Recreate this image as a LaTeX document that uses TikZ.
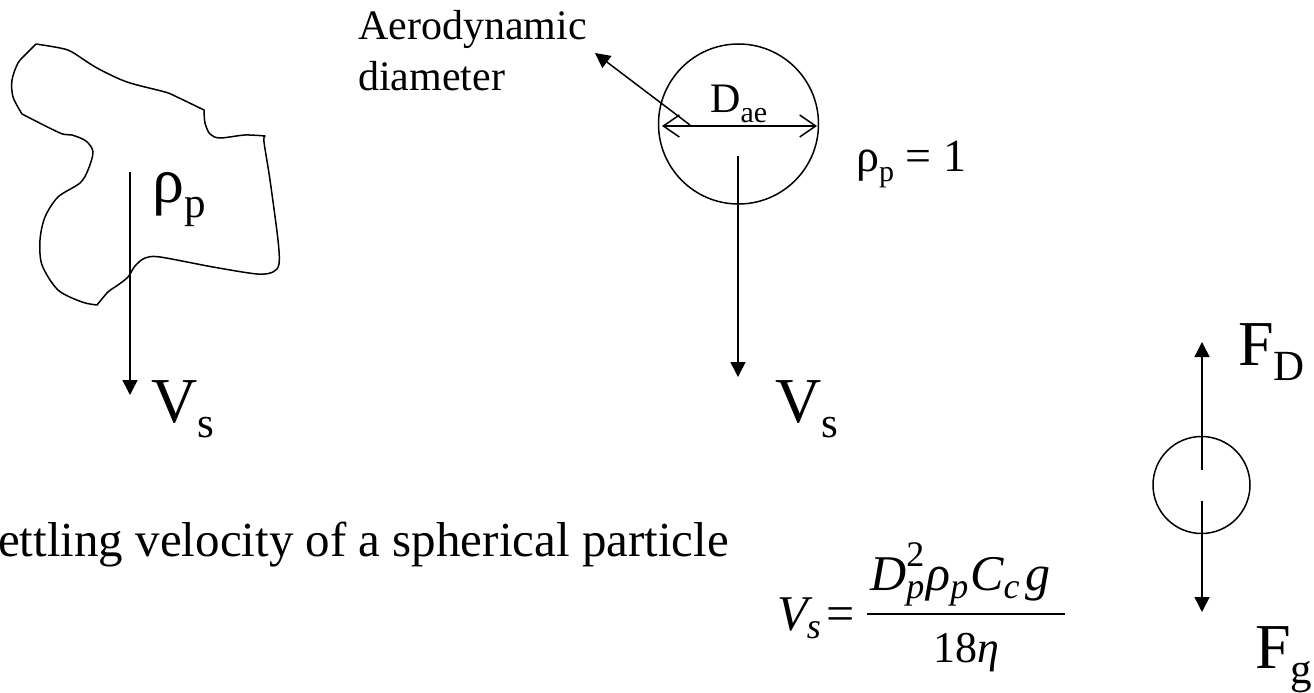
\documentclass[tikz,border=0pt]{standalone}
\usepackage{fontspec}
\setmainfont{Liberation Serif}
\usetikzlibrary{arrows.meta}
\newcommand\sbig[1]{\raisebox{-15pt}{\fontsize{43}{45}\selectfont #1}}
\newcommand\ssmall[1]{\raisebox{-10pt}{\fontsize{30}{32}\selectfont #1}}
\newcommand\seq[1]{\raisebox{-8pt}{\fontsize{36}{38}\selectfont #1}}
\begin{document}
\begin{tikzpicture}[x=1pt,y=-1pt,
  lw/.style={line width=1.5pt},
  arr/.style={lw,-{Triangle[length=15pt,width=15pt]}},
  dimarr/.style={lw,{Straight Barb[length=16pt,width=22pt]}-{Straight Barb[length=16pt,width=22pt]}},
  lab/.style={inner sep=0pt,anchor=base west},
  big/.style={lab,font=\fontsize{64}{70}\selectfont},
  small/.style={lab,font=\fontsize{42}{48}\selectfont},
  eqfont/.style={lab,font=\fontsize{50}{54}\selectfont\itshape},
]
\useasboundingbox (0,0) rectangle (1314,693);

% irregular particle
\draw[lw,line join=round]
  plot[smooth,tension=0.5] coordinates {(36,44) (60,48) (72,52) (97,68) (127,82) (165,92) (177,97) (204,110)}
  -- plot[smooth,tension=0.5] coordinates {(204,110) (205,123) (210,134) (220,138) (245,135) (265,136)}
  -- plot[smooth,tension=0.5] coordinates {(265,136) (264,142) (270,180) (278,240) (279,264) (273,272) (257,274) (213,267) (160,257) (145,258) (135,266) (128,277) (118,285) (108,292) (97,305)}
  -- plot[smooth,tension=0.5] coordinates {(97,305) (82,302) (58,290) (42,265) (40,240) (45,217) (58,197) (80,183) (88,170) (93,152) (86,141) (72,135) (60,133) (22,114)}
  -- plot[smooth,tension=0.5] coordinates {(22,114) (13,97) (12,80) (18,63) (27,53) (36,44)};

% spheres
\node[circle,draw,lw,minimum size=160pt,inner sep=0pt] (part) at (738.5,124) {};
\node[circle,draw,lw,minimum size=97pt,inner sep=0pt] (ball) at (1201.5,485) {};

% labels
\node[big] (rhoL) at (152,202) {ρ\sbig{p}};
\node[big] (vsL) at (151,422) {V\sbig{s}};
\node[big] (vsM) at (775,422) {V\sbig{s}};
\node[big] (fd) at (1238,365) {F\sbig{D}};
\node[big] (fg) at (1255,668) {F\sbig{g}};
\node[small] (aero1) at (358,40) {Aerodynamic};
\node[small] (aero2) at (358,90) {diameter};
\node[small] (dae) at (710,112) {D\ssmall{ae}};
\node[lab,font=\fontsize{46}{50}\selectfont] (rho1) at (856,171) {ρ\ssmall{p} = 1};
\node[lab,font=\fontsize{49}{55}\selectfont] (settle) at (-2,556) {ettling velocity of a spherical particle};

% formula
\node[eqfont] (eqV) at (777,630) {V\kern-1pt\seq{s}};
\node[lab,font=\fontsize{50}{54}\selectfont] (eqeq) at (826,630) {=};
\node[eqfont] (eqnum) at (870,590)
  {D\rlap{\raisebox{24pt}{\fontsize{36}{38}\selectfont\upshape 2}}\seq{p}\kern2pt ρ\seq{p}\kern2pt C\seq{c}\kern6pt g};
\node[lab,font=\fontsize{44}{48}\selectfont] (eqden) at (933,662) {18\textit{η}};
\coordinate (bar1) at (867,614); \coordinate (bar2) at (1065,614);
\draw[line width=2pt] (bar1) -- (bar2);

% connectors
\coordinate (l1) at (130,172); \coordinate (l2) at (130,395);
\coordinate (m1) at (738,156); \coordinate (m2) at (738,377);
\coordinate (ld1) at (690,125); \coordinate (ld2) at (595,53);
\coordinate (d1) at (662,126); \coordinate (d2) at (817,126);
\coordinate (u1) at (1202,470); \coordinate (u2) at (1202,342);
\coordinate (g1) at (1202,501); \coordinate (g2) at (1202,612);
\draw[arr] (l1) -- (l2);
\draw[arr] (m1) -- (m2);
\draw[arr] (ld1) -- (ld2);
\draw[dimarr] (d1) -- (d2);
\draw[arr] (u1) -- (u2);
\draw[arr] (g1) -- (g2);
\end{tikzpicture}
\end{document}
